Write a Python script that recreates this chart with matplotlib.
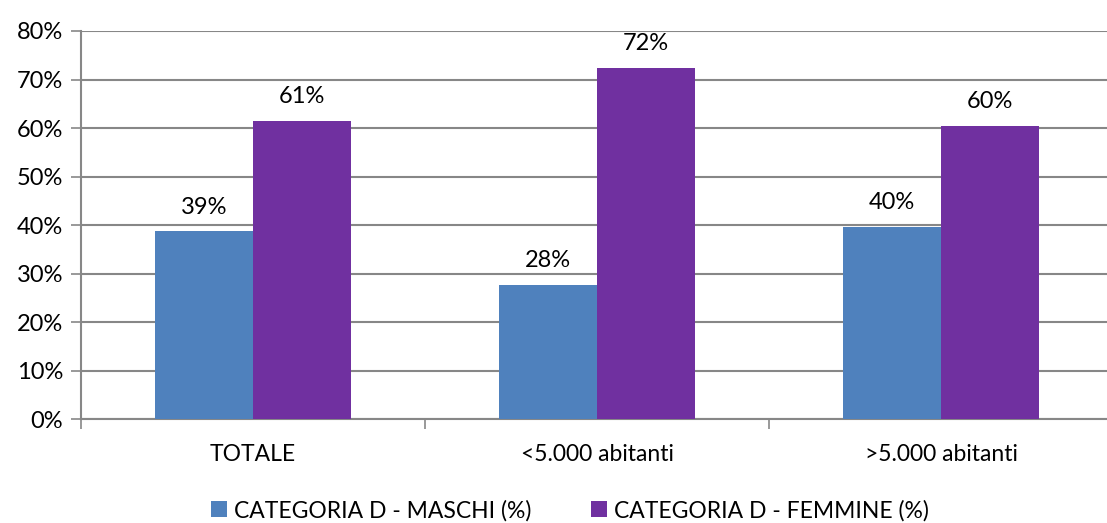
import matplotlib
matplotlib.use('Agg')
import matplotlib.pyplot as plt
import numpy as np

plt.rcParams['font.family'] = ['Lato', 'DejaVu Sans']

categorie = ['TOTALE', '<5.000 abitanti', '>5.000 abitanti']
maschi = [38.7, 27.6, 39.6]
femmine = [61.4, 72.4, 60.5]
serie = ['CATEGORIA D - MASCHI (%)', 'CATEGORIA D - FEMMINE (%)']
colori = ['#4F81BD', '#7030A0']

fig = plt.figure(figsize=(11.07, 5.23), dpi=100)
ax = fig.add_axes([0.0732, 0.1983, 0.9322, 0.7425])

x = np.arange(len(categorie))
w = 0.2857
b1 = ax.bar(x - w/2, maschi, w, color=colori[0], label=serie[0], zorder=3)
b2 = ax.bar(x + w/2, femmine, w, color=colori[1], label=serie[1], zorder=3)

# etichette con il valore sopra ogni barra
for bars, vals in ((b1, maschi), (b2, femmine)):
    for r, v in zip(bars, vals):
        ax.annotate('%d%%' % round(v), (r.get_x() + r.get_width()/2, v),
                    xytext=(0, 10), textcoords='offset points',
                    ha='center', va='bottom', fontsize=17, color='black')

ax.set_xlim(-0.5, 2.5)
ax.set_ylim(0, 80)
ax.set_yticks(np.arange(0, 81, 10))
ax.set_yticklabels(['%d%%' % t for t in range(0, 81, 10)], fontsize=17)
ax.yaxis.grid(True, color='#878787', linewidth=1.5, zorder=0)

ax.set_xticks([-0.5, 0.5, 1.5, 2.5])
ax.set_xticklabels([])
ax.set_xticks(x, minor=True)
ax.set_xticklabels(categorie, minor=True, fontsize=16.5)
ax.tick_params(axis='x', which='minor', length=0, pad=18)
ax.tick_params(axis='x', which='major', length=7, width=1.2, color='#878787')
ax.tick_params(axis='y', length=7, width=1.2, color='#878787', pad=6)

for s in ['top', 'right']:
    ax.spines[s].set_visible(False)
for s in ['left', 'bottom']:
    ax.spines[s].set_color('#878787')
    ax.spines[s].set_linewidth(1.5)

fig.legend(loc='center', bbox_to_anchor=(0.515, 0.024), ncol=2, frameon=False,
           fontsize=16.5, handlelength=0.7, handleheight=0.7, handletextpad=0.3,
           columnspacing=2.6)

fig.savefig('out.png', dpi=100)
